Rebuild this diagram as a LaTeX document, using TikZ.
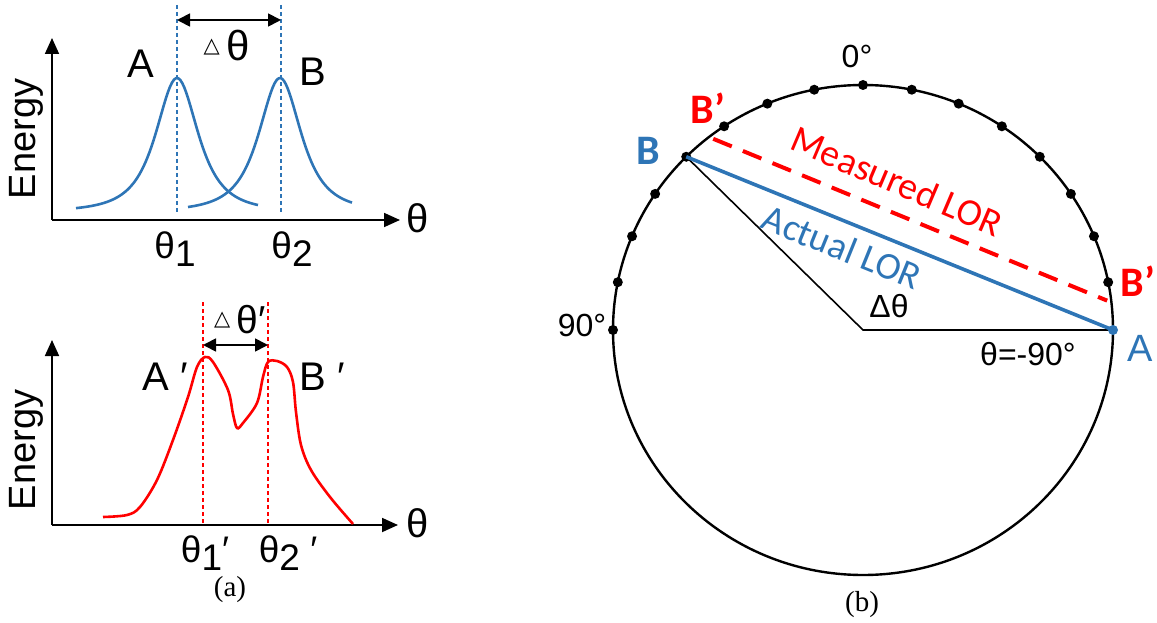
\documentclass[tikz,border=0pt]{standalone}
\usepackage{fontspec}
\setmainfont{Liberation Sans}
\newfontfamily\timesfont{Liberation Serif}
\newfontfamily\carlito{Carlito}
\newfontfamily\dejavu{DejaVu Sans}
\usetikzlibrary{arrows.meta, calc}
\definecolor{lorblue}{HTML}{2E75B6}
\definecolor{lorred}{HTML}{FF0000}
\newcommand{\fsz}[1]{\fontsize{#1}{#1}\selectfont}
\newcommand{\smalltri}{\raisebox{8pt}{\dejavu\fsz{21pt}△}}
\newcommand{\lowsub}[1]{\raisebox{-0.22em}{#1}}

\tikzset{
  axis/.style={line width=1.8pt, -{Triangle[length=16pt,width=14pt]}},
  span/.style={line width=1.8pt, {Triangle[length=13pt,width=13pt]}-{Triangle[length=13pt,width=13pt]}},
  guide/.style={line width=1.3pt, dash pattern=on 4pt off 3pt},
  lbl/.style={font=\fsz{40pt}},
  tlbl/.style={font=\fsz{37pt}, anchor=base},
  deg/.style={font=\fsz{32pt}},
  lor/.style={font=\carlito\fsz{38pt}},
  endpt/.style={font=\carlito\bfseries\fsz{42pt}},
}

\begin{document}
\begin{tikzpicture}[x=1pt, y=-1pt, >=Stealth]
  \useasboundingbox (0,0) rectangle (1157,623);

  % (a) oben: zwei getrennte Peaks
  \coordinate (o1) at (52,220);
  \draw[axis] (o1) -- (400,220);
  \draw[axis] (o1) -- (52,38);
  \draw[lorblue, line width=2.6pt] plot[domain=76:258, samples=90]
    (\x, {212-134/((1+((\x-177)/32.6)^2)*sqrt(1+((\x-177)/32.6)^2))});
  \draw[lorblue, line width=2.6pt] plot[domain=188:352, samples=90]
    (\x, {212-134/((1+((\x-280)/32.6)^2)*sqrt(1+((\x-280)/32.6)^2))});
  \coordinate (gA) at (177,5);
  \coordinate (gB) at (281,5);
  \draw[lorblue, guide] (gA) -- (177,213);
  \draw[lorblue, guide] (gB) -- (281,213);
  \draw[span] (177,20) -- (281,20);

  \node[font=\fsz{38pt}, rotate=90] (en1) at (26,139) {Energy};
  \node[lbl] (pkA) at (141,64) {A};
  \node[lbl] (pkB) at (313,72) {B};
  \node[font=\fsz{42pt}, anchor=base] (dt1) at (227,61) {\smalltri\,θ};
  \node[tlbl] (th1) at (175,258) {θ\lowsub{1}};
  \node[tlbl] (th2) at (292,258) {θ\lowsub{2}};
  \node[font=\fsz{40pt}] (ax1) at (418,218) {θ};

  % (a) unten: gemessene Verteilung
  \coordinate (o2) at (52,525);
  \draw[axis] (o2) -- (398,525);
  \draw[axis] (o2) -- (52,340);
  \draw[lorred, line width=2.6pt] plot[smooth, tension=0.55] coordinates {
    (103,517) (127,515) (140,507) (157,480) (173,440) (188,397) (197,367)
    (205,357) (213,362) (228,390) (233,414) (237,428) (243,423) (257,403)
    (263,377) (268,362) (277,361) (287,367) (293,382) (296,412) (301,445)
    (311,470) (330,497) (353,524)};
  \coordinate (gA2) at (203,302);
  \coordinate (gB2) at (268,302);
  \draw[lorred, guide] (gA2) -- (203,525);
  \draw[lorred, guide] (gB2) -- (268,525);
  \draw[span] (203,345) -- (268,345);

  \node[font=\fsz{38pt}, rotate=90] (en2) at (26,450) {Energy};
  \node[lbl] (pkA2) at (165,377) {A ′};
  \node[lbl] (pkB2) at (322,377) {B ′};
  \node[font=\fsz{39pt}, anchor=base] (dt2) at (240,333) {\smalltri\,θ′};
  \node[tlbl] (th1p) at (205,562) {θ\lowsub{1}′};
  \node[tlbl] (th2p) at (288,562) {θ\lowsub{2} ′};
  \node[font=\fsz{40pt}] (ax2) at (418,523) {θ};
  \node[font=\timesfont\fsz{29pt}] (capa) at (230,590) {(a)};

  % (b) Detektorring
  \coordinate (O) at (863,330);
  \draw[line width=2.4pt] (O) ellipse [x radius=250pt, y radius=245pt];
  \foreach \i in {1,...,16}
    \fill ($(O)+(\i*11.25:250pt and 245pt)$) circle (5pt);
  \coordinate (A) at ($(O)+(0:250pt and 245pt)$);
  \coordinate (B) at ($(O)+(135:250pt and 245pt)$);
  \coordinate (Bm) at ($(O)+(127.5:246pt and 241pt)$);
  \coordinate (Am) at ($(O)+(7:246pt and 241pt)$);

  \draw[line width=1.6pt] (B) -- (O) -- (A);
  \draw[lorred, line width=4pt, dash pattern=on 20pt off 12pt] (Bm) -- (Am);
  \draw[lorblue, line width=3.6pt] (B) -- (A);
  \fill[lorblue] (A) circle (5pt);

  \node[lor, text=lorred, rotate=-23] (meas) at (897,181) {Measured LOR};
  \node[lor, text=lorblue, rotate=-22] (act) at (842,247) {Actual LOR};
  \node[deg] (d0) at (857,56) {0°};
  \node[deg] (d90) at (582,325) {90°};
  \node[deg] (dm90) at (1028,354) {θ=-90°};
  \node[deg] (dth) at (889,306) {Δθ};
  \node[endpt, text=lorred] (lBp) at (708,108) {B’};
  \node[endpt, text=lorblue] (lB) at (648,151) {B};
  \node[endpt, text=lorred] (lBp2) at (1138,281) {B’};
  \node[font=\fsz{38pt}, text=lorblue] (lA) at (1140,348) {A};
  \node[font=\timesfont\fsz{29pt}] (capb) at (862,605) {(b)};
\end{tikzpicture}
\end{document}
